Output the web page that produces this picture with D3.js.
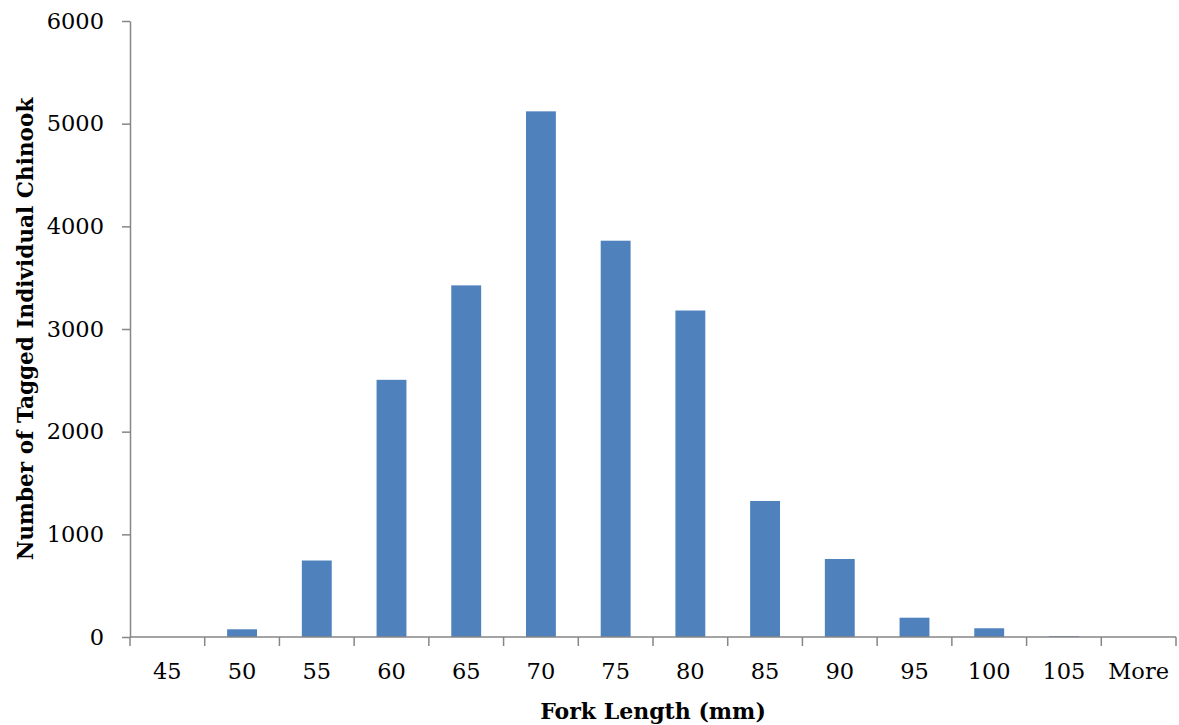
<!DOCTYPE html>
<html>
<head>
<meta charset="utf-8">
<script src="https://cdn.jsdelivr.net/npm/d3@7"></script>
<style>
  body { margin: 0; background: #fff; }
  text { font-family: "DejaVu Serif", "Liberation Serif", serif; }
</style>
</head>
<body>
<div id="chart"></div>
<script>
// fork length bins and counts of tagged chinook
const bins = ["45", "50", "55", "60", "65", "70", "75", "80", "85", "90", "95", "100", "105", "More"]
const counts = [0, 75, 745, 2505, 3425, 5120, 3860, 3180, 1325, 760, 188, 85, 8, 0]
const yTicks = [0, 1000, 2000, 3000, 4000, 5000, 6000]

const width = 1179, height = 725
const margin = {top: 21, right: 3, bottom: 88, left: 130}
const innerW = width - margin.left - margin.right
const innerH = height - margin.top - margin.bottom

const svg = d3.select("#chart")
  .append("svg")
  .attr("width", width)
  .attr("height", height)

const g = svg.append("g")
  .attr("transform", "translate(" + margin.left + "," + margin.top + ")")

const data = bins.map((b, i) => ({bin: b, n: counts[i]}))

const x = d3.scaleBand()
  .domain(bins)
  .range([0, innerW])
  .paddingInner(0.6)
  .paddingOuter(0.3)

const y = d3.scaleLinear()
  .domain([0, 6000])
  .range([innerH, 0])

// bars
g.selectAll("rect.bar")
  .data(data)
  .enter()
  .append("rect")
    .attr("class", "bar")
    .attr("x", d => x(d.bin))
    .attr("y", d => y(d.n))
    .attr("width", x.bandwidth())
    .attr("height", d => innerH - y(d.n))
    .style("fill", "#4f81bd")

// y axis
const yAxis = g.append("g")
  .call(d3.axisLeft(y).tickValues(yTicks).tickFormat(d3.format("d"))
    .tickSize(8).tickPadding(18).tickSizeOuter(0))
yAxis.select(".domain").attr("stroke", "#868686").attr("stroke-width", 1.5)
yAxis.selectAll(".tick line").attr("stroke", "#868686").attr("stroke-width", 1.5)
yAxis.selectAll(".tick text")
  .style("font-size", "22.5px")
  .attr("fill", "#000")

// x axis: ticks sit on band boundaries
const xAxis = g.append("g")
  .attr("transform", "translate(0," + innerH + ")")
xAxis.append("line")
  .attr("x1", 0).attr("x2", innerW)
  .attr("stroke", "#868686").attr("stroke-width", 1.5)
const edges = d3.range(bins.length + 1).map(i => i * innerW / bins.length)
xAxis.selectAll("line.tick")
  .data(edges)
  .enter()
  .append("line")
    .attr("x1", d => d).attr("x2", d => d)
    .attr("y1", 0).attr("y2", 9)
    .attr("stroke", "#868686").attr("stroke-width", 1.5)
xAxis.selectAll("text.lab")
  .data(bins)
  .enter()
  .append("text")
    .attr("x", d => x(d) + x.bandwidth() / 2)
    .attr("y", 42)
    .attr("text-anchor", "middle")
    .style("font-size", "22.5px")
    .text(d => d)

// axis titles
svg.append("text")
  .attr("x", margin.left + innerW / 2)
  .attr("y", 719)
  .attr("text-anchor", "middle")
  .style("font-size", "22px")
  .style("font-weight", "bold")
  .text("Fork Length (mm)")

svg.append("text")
  .attr("transform", "translate(33," + (margin.top + innerH / 2) + ") rotate(-90)")
  .attr("text-anchor", "middle")
  .style("font-size", "21.6px")
  .style("font-weight", "bold")
  .text("Number of Tagged Individual Chinook")
</script>
</body>
</html>
